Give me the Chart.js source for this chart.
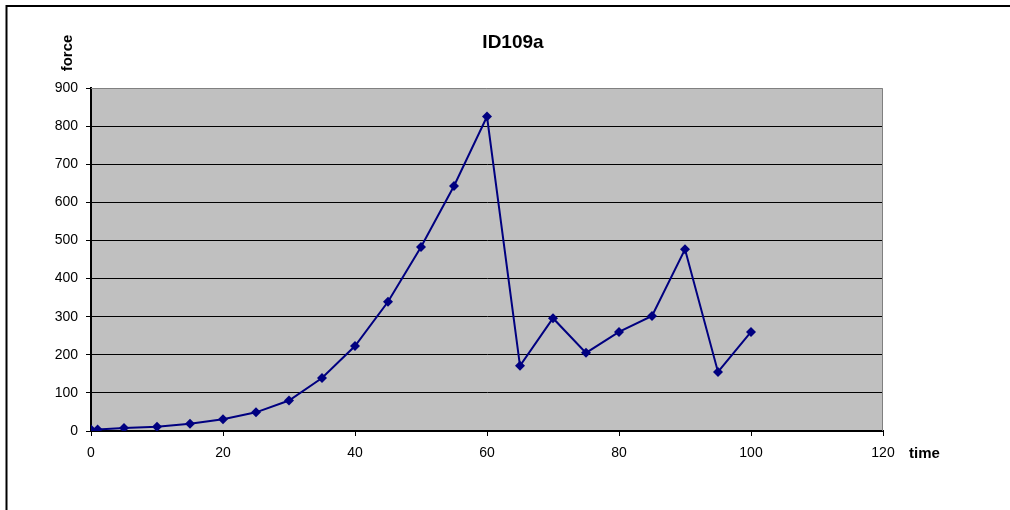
<!DOCTYPE html>
<html>
<head>
<meta charset="utf-8">
<script src="https://cdn.jsdelivr.net/npm/chart.js@4"></script>
<style>
  html, body { margin: 0; padding: 0; background: #fff; }
  #wrap { position: relative; width: 1010px; height: 510px; }
</style>
</head>
<body>
<div id="wrap"><canvas id="c" width="1010" height="510"></canvas></div>
<script>
  // ID109a - force over time
  var TITLE = "ID109a";
  var X_LABEL = "time";
  var Y_LABEL = "force";
  var timeVals = [0, 1, 5, 10, 15, 20, 25, 30, 35, 40, 45, 50, 55, 60, 65, 70, 75, 80, 85, 90, 95, 100];
  var forceVals = [4, 4, 8, 11, 19, 31, 49, 80, 139, 223, 339, 483, 643, 825, 171, 296, 205, 260, 302, 477, 155, 260];
  var X_MIN = 0, X_MAX = 120, X_STEP = 20;
  var Y_MIN = 0, Y_MAX = 900, Y_STEP = 100;

  var FONT = "'Liberation Sans', Arial, sans-serif";
  var NAVY = "#000080";

  var points = timeVals.map(function (t, i) { return { x: t, y: forceVals[i] }; });

  /* plot background, outer frame and the Excel-style labels */
  var decor = {
    id: "decor",
    beforeDraw: function (chart) {
      var ctx = chart.ctx, a = chart.chartArea;
      ctx.save();
      ctx.fillStyle = "#C0C0C0";
      ctx.fillRect(a.left, a.top, a.right - a.left, a.bottom - a.top);
      ctx.strokeStyle = "#000";
      ctx.lineWidth = 2;
      ctx.strokeRect(6.5, 6, chart.width + 20, chart.height + 20);
      ctx.restore();
    },
    afterDraw: function (chart) {
      var ctx = chart.ctx, a = chart.chartArea;
      ctx.save();
      // gray right + top border of plot area
      ctx.strokeStyle = "#808080";
      ctx.lineWidth = 1;
      ctx.beginPath();
      ctx.moveTo(a.left, a.top + 0.5);
      ctx.lineTo(a.right - 0.5, a.top + 0.5);
      ctx.lineTo(a.right - 0.5, a.bottom);
      ctx.stroke();

      ctx.fillStyle = "#000";
      ctx.font = "bold 19px " + FONT;
      ctx.textAlign = "center";
      ctx.textBaseline = "middle";
      ctx.fillText(TITLE, chart.width / 2 + 8, 43);

      ctx.font = "bold 15px " + FONT;
      ctx.textAlign = "left";
      ctx.fillText(X_LABEL, a.right + 26, a.bottom + 23);

      ctx.translate(a.left - 23, 53);
      ctx.rotate(-Math.PI / 2);
      ctx.textAlign = "center";
      ctx.fillText(Y_LABEL, 0, 0);
      ctx.restore();
    }
  };

  new Chart(document.getElementById("c"), {
    type: "scatter",
    data: {
      datasets: [{
        label: "force",
        data: points,
        showLine: true,
        borderColor: NAVY,
        backgroundColor: NAVY,
        borderWidth: 2,
        pointStyle: "rectRot",
        pointRadius: 5,
        pointHoverRadius: 5,
        pointBorderWidth: 0,
        tension: 0
      }]
    },
    options: {
      responsive: false,
      animation: false,
      events: [],
      layout: { padding: { left: 0, right: 127, top: 88, bottom: 49 } },
      plugins: {
        legend: { display: false },
        title: { display: false },
        tooltip: { enabled: false }
      },
      scales: {
        x: {
          type: "linear",
          min: X_MIN, max: X_MAX,
          afterFit: function (s) { s.height = 30; },
          ticks: { stepSize: X_STEP, color: "#000", padding: 9, font: { family: FONT, size: 14 } },
          grid: { drawOnChartArea: false, drawTicks: true, tickLength: 5, tickColor: "#000", tickWidth: 1 },
          border: { color: "#000", width: 2 }
        },
        y: {
          min: Y_MIN, max: Y_MAX,
          afterFit: function (s) { s.width = 91; },
          ticks: { stepSize: Y_STEP, color: "#000", padding: 8, font: { family: FONT, size: 14 } },
          grid: {
            color: function (c) { return c.tick.value === Y_MAX ? "rgba(0,0,0,0)" : "#000"; },
            lineWidth: 1,
            drawTicks: true, tickLength: 5, tickColor: "#000"
          },
          border: { color: "#000", width: 2 }
        }
      }
    },
    plugins: [decor]
  });
</script>
</body>
</html>
